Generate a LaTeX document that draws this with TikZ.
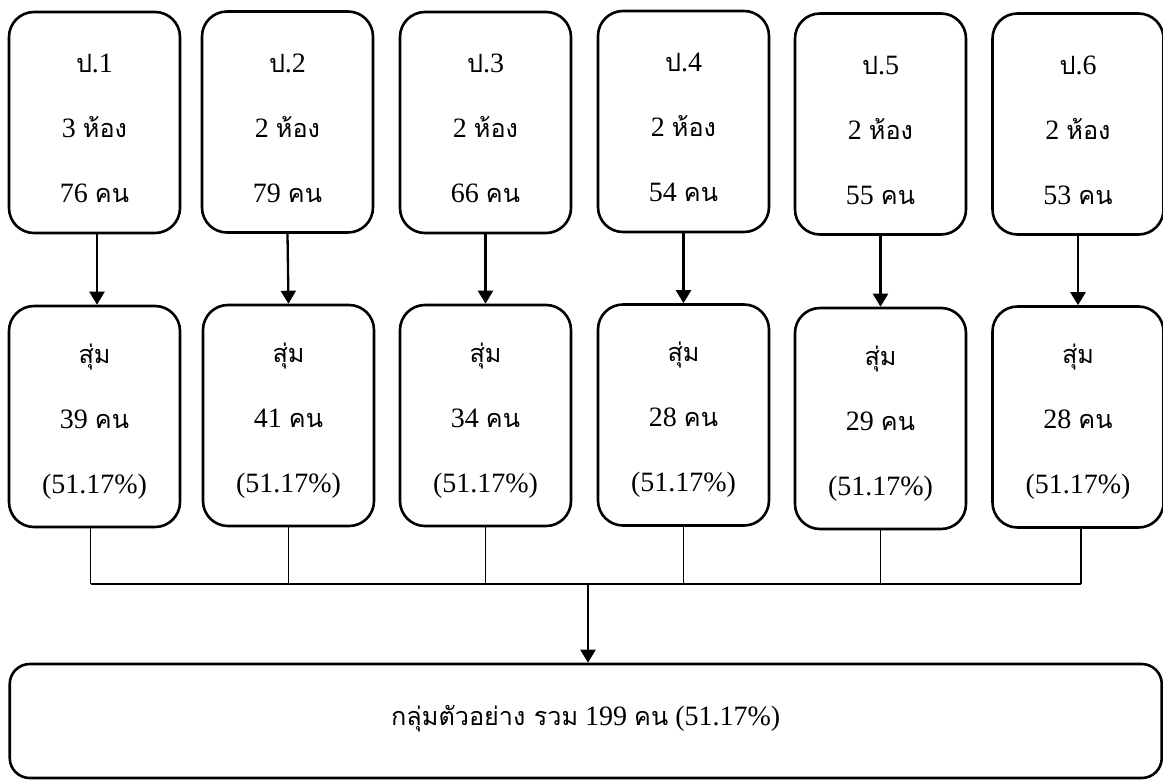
\documentclass[tikz,border=0pt]{standalone}
\usepackage{fontspec}
\setmainfont{Liberation Serif}
\newfontfamily\thaifont[Script=Thai,Scale=0.9]{Loma}
\usetikzlibrary{arrows.meta}
\newcommand{\tf}[1]{{\thaifont #1}}

\begin{document}
\begin{tikzpicture}[x=1pt,y=-1pt,
  txt/.style={font=\fontsize{28}{65}\selectfont, align=center, inner sep=0pt},
  box/.style={draw, line width=2.6pt, rounded corners=25pt,
              minimum width=171pt, minimum height=221pt, inner sep=0pt},
  totalbox/.style={txt, draw, line width=2.6pt, rounded corners=20pt,
              minimum width=1152pt, minimum height=114pt, inner sep=0pt},
  flow/.style={line width=2.3pt, -{Triangle[length=13pt,width=15pt]}},
  bus/.style={line width=1.3pt}]
\useasboundingbox (0,0) rectangle (1163,780);

% grade levels
\node[box] (t1) at (94.5,122.5) {};
\node[box] (t2) at (287.5,122)  {};
\node[box] (t3) at (485.5,122.5){};
\node[box] (t4) at (683.5,121.5){};
\node[box] (t5) at (880.5,124)  {};
\node[box] (t6) at (1078,124)   {};
\node[txt] (t1x) at ([yshift=-6pt]t1.center) {\tf{ป}.1\\3 \tf{ห้อง}\\76 \tf{คน}};
\node[txt] (t2x) at ([yshift=-6pt]t2.center) {\tf{ป}.2\\2 \tf{ห้อง}\\79 \tf{คน}};
\node[txt] (t3x) at ([yshift=-6pt]t3.center) {\tf{ป}.3\\2 \tf{ห้อง}\\66 \tf{คน}};
\node[txt] (t4x) at ([yshift=-6pt]t4.center) {\tf{ป}.4\\2 \tf{ห้อง}\\54 \tf{คน}};
\node[txt] (t5x) at ([yshift=-6pt]t5.center) {\tf{ป}.5\\2 \tf{ห้อง}\\55 \tf{คน}};
\node[txt] (t6x) at ([yshift=-6pt]t6.center) {\tf{ป}.6\\2 \tf{ห้อง}\\53 \tf{คน}};

% samples drawn from each level
\node[box] (s1) at (94.5,416.5) {};
\node[box] (s2) at (288.5,415.5){};
\node[box] (s3) at (485.5,415.5){};
\node[box] (s4) at (683.5,415)  {};
\node[box] (s5) at (880.5,418.5){};
\node[box] (s6) at (1078,417)   {};
\node[txt] (s1x) at ([yshift=-5pt]s1.center) {\tf{สุ่ม}\\39 \tf{คน}\\(51.17\%)};
\node[txt] (s2x) at ([yshift=-5pt]s2.center) {\tf{สุ่ม}\\41 \tf{คน}\\(51.17\%)};
\node[txt] (s3x) at ([yshift=-5pt]s3.center) {\tf{สุ่ม}\\34 \tf{คน}\\(51.17\%)};
\node[txt] (s4x) at ([yshift=-5pt]s4.center) {\tf{สุ่ม}\\28 \tf{คน}\\(51.17\%)};
\node[txt] (s5x) at ([yshift=-5pt]s5.center) {\tf{สุ่ม}\\29 \tf{คน}\\(51.17\%)};
\node[txt] (s6x) at ([yshift=-5pt]s6.center) {\tf{สุ่ม}\\28 \tf{คน}\\(51.17\%)};

% total sample
\node[totalbox] (total) at (585.75,721) {};
\node[txt] (totalx) at ([yshift=2pt]total.center) {\tf{กลุ่มตัวอย่าง รวม} 199 \tf{คน} (51.17\%)};

% level -> sample arrows
\draw[flow] ([xshift=2.5pt]t1.south) -- ([xshift=2.5pt]s1.north);
\foreach \i in {2,...,6}
  \draw[flow] (t\i.south) -- (s\i.north);

% collecting bus
\coordinate (bus) at (588,584);
\coordinate (b1) at ([xshift=-4pt]s1.south);
\coordinate (b6) at ([xshift=3pt]s6.south);
\draw[bus] (b1) -- (b1 |- bus);
\foreach \i in {2,...,5}
  \draw[bus] (s\i.south) -- (s\i.south |- bus);
\draw[bus] (b6) -- (b6 |- bus);
\draw[bus] (b1 |- bus) -- (b6 |- bus);
\draw[flow] (bus) -- (bus |- total.north);
\end{tikzpicture}
\end{document}
